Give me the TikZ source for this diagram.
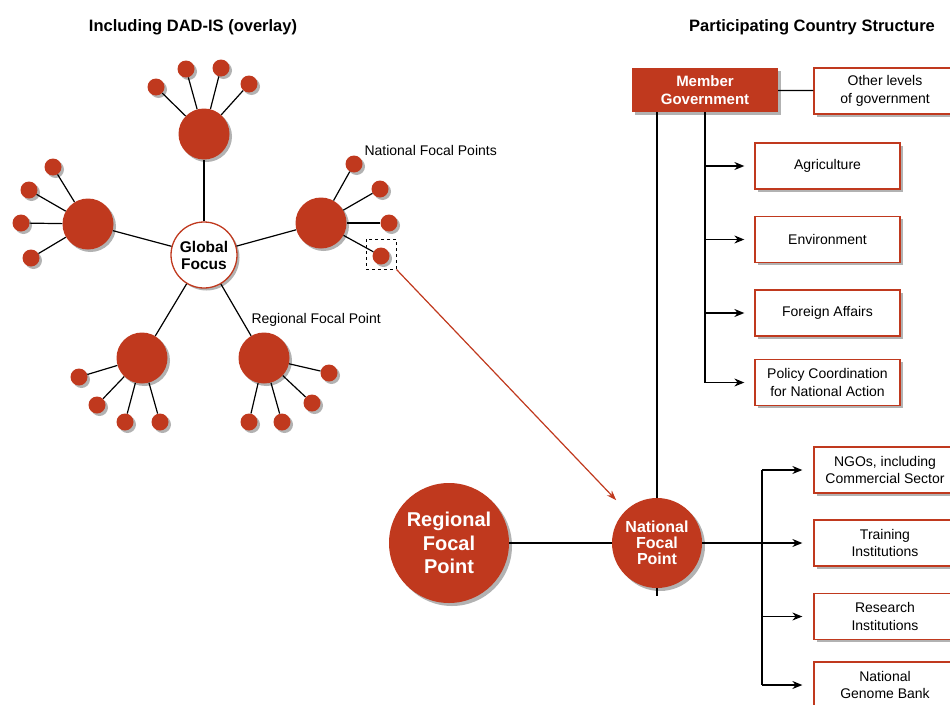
\documentclass[tikz,border=0pt]{standalone}
\usepackage{fontspec}
\setmainfont{Liberation Sans}
\usepackage{xcolor}
\usepackage{tikz}
\usetikzlibrary{shadows}
\usetikzlibrary{arrows.meta}

\definecolor{faored}{RGB}{192,57,30}

\tikzset{
  shade2/.style={drop shadow={shadow xshift=2.5pt,shadow yshift=-2.5pt,fill=black!30,opacity=1}},
  shade3/.style={drop shadow={shadow xshift=3pt,shadow yshift=-3pt,fill=black!30,opacity=1}},
  hub/.style={circle,fill=faored,inner sep=0pt,minimum size=51pt,shade2},
  sat/.style={circle,fill=faored,inner sep=0pt,minimum size=17pt,shade2},
  spoke/.style={line width=1.2pt},
  title/.style={font=\fontsize{16.5}{19}\selectfont\bfseries},
  lbl/.style={font=\fontsize{14}{17}\selectfont,anchor=west},
  unit/.style={draw=faored,line width=1.3pt,fill=white,align=center,inner sep=0pt,
    minimum width=145pt,minimum height=46pt,font=\fontsize{14}{17.5}\selectfont,shade2},
  arr/.style={line width=1.2pt,-{Stealth[length=10pt,width=8pt]}}
}

\begin{document}
\begin{tikzpicture}[x=1pt,y=-1pt]
  \clip (0,0) rectangle (950,704);

  % left: the DAD-IS star
  \node[title] (ttl) at (193,27) {Including DAD-IS (overlay)};
  \node[circle,draw=faored,line width=1.3pt,fill=white,minimum size=66pt,inner sep=0pt,
    align=center,font=\fontsize{15.5}{17}\selectfont\bfseries,shade2] (glob) at (204,255) {Global\\Focus};
  \node[hub] (top) at (204,134) {};
  \node[hub] (left) at (88,224) {};
  \node[hub] (right) at (321,223) {};
  \node[hub] (botl) at (142,358) {};
  \node[hub] (botr) at (264,358) {};
  \foreach \h in {top,left,right,botl,botr}
    \draw[spoke] (glob) -- (\h);
  \foreach \h/\pts in {top/{156/87,186/69,221/68,249/84},
                       left/{53/167,29/190,21/223,31/258},
                       right/{354/164,380/189,389/223,381/256},
                       botl/{79/377,97/405,125/422,160/422},
                       botr/{329/373,312/403,282/422,249/422}} {
    \foreach \x/\y [count=\i] in \pts {
      \node[sat] (\h-\i) at (\x,\y) {};
      \draw[spoke] (\h) -- (\h-\i);
    }
  }
  \node[lbl] (nfplbl) at (361,150) {National Focal Points};
  \node[lbl] (rfplbl) at (248,320) {Regional Focal Point};
  \node[draw,dashed,line width=1pt,minimum size=30pt,inner sep=0pt] (sel) at (381,254) {};

  % right: country structure
  \node[title] (ttr) at (812,27) {Participating Country Structure};
  \node[fill=faored,text=white,align=center,minimum width=146pt,minimum height=44pt,inner sep=0pt,
    font=\fontsize{15}{18}\selectfont\bfseries,shade2] (mg) at (705,90) {Member\\Government};
  \node[unit,minimum width=142pt] (oth) at (885,91) {Other levels\\of government};
  \node[unit] (agr) at (827.5,166) {Agriculture};
  \node[unit] (env) at (827.5,239.5) {Environment};
  \node[unit] (for) at (827.5,313) {Foreign Affairs};
  \node[unit] (pol) at (827.5,382.5) {Policy Coordination\\for National Action};

  \node[circle,fill=faored,text=white,minimum size=120pt,inner sep=0pt,align=center,
    font=\fontsize{20}{23.5}\selectfont\bfseries,shade3] (rfp) at (449,543) {Regional\\Focal\\Point};
  \node[circle,fill=faored,text=white,minimum size=90pt,inner sep=0pt,align=center,
    font=\fontsize{16}{16}\selectfont\bfseries,shade3] (nfp) at (657,543) {National\\Focal\\Point};

  \node[unit,minimum width=142pt] (ngo) at (885,470) {NGOs, including\\Commercial Sector};
  \node[unit,minimum width=142pt] (trn) at (885,543) {Training\\Institutions};
  \node[unit,minimum width=142pt] (res) at (885,616.5) {Research\\Institutions};
  \node[unit,minimum width=142pt] (gen) at (885,685) {National\\Genome Bank};

  \draw[spoke] (mg) -- (oth);
  \draw[spoke] (mg.south) -- (mg.south |- pol);
  \foreach \b in {agr,env,for,pol}
    \draw[arr,shorten >=10pt] (mg.south |- \b) -- (\b.west);
  \draw[spoke] (nfp.north |- mg.south) -- (nfp.north);
  \draw[spoke] (nfp.south) -- ++(0,8);
  \draw[spoke] (rfp) -- (nfp);

  \coordinate (bus) at (762,0);
  \draw[spoke] (bus |- ngo.west) -- (bus |- gen.west);
  \draw[spoke] (nfp.east) -- (bus |- trn.west);
  \foreach \b in {ngo,trn,res,gen}
    \draw[arr,shorten >=11pt] (bus |- \b.west) -- (\b.west);

  \draw[faored,line width=1.2pt,-{Stealth[length=10pt,width=7pt]},shorten >=14pt] (sel.south east) -- (nfp);
\end{tikzpicture}
\end{document}
